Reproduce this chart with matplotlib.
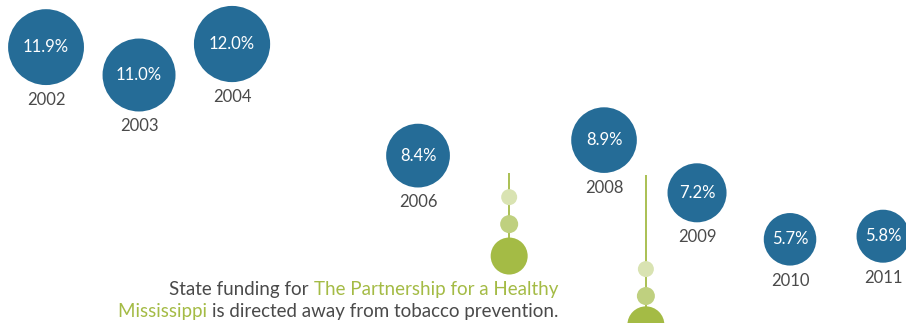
import matplotlib
matplotlib.use('Agg')
import matplotlib.pyplot as plt
import numpy as np

plt.rcParams['font.family'] = ['Lato', 'DejaVu Sans']

# data
years = [2002, 2003, 2004, 2006, 2008, 2009, 2010, 2011]
rates = [11.9, 11.0, 12.0, 8.4, 8.9, 7.2, 5.7, 5.8]
labels = ['11.9%', '11.0%', '12.0%', '8.4%', '8.9%', '7.2%', '5.7%', '5.8%']

# green "drop" decorations (x in years, y in rate units)
drop_x = [2006.98, 2008.45]
drop_top = [7.84, 7.77]
drop_light = [7.06, 4.74]
drop_mid = [6.19, 3.87]
drop_big = [5.16, 2.94]

BLUE = '#256c97'
GREEN = '#a4bb45'
GREEN_MID = '#bfd07f'
GREEN_LIGHT = '#d9e3b2'
GREY = '#4a4a4a'

DPI = 100
fig = plt.figure(figsize=(9.06, 3.23), dpi=DPI)
fig.patch.set_facecolor('white')
ax = fig.add_axes([0, 0, 1, 1])
ax.set_xlim(2001.505, 2011.247)
ax.set_ylim(3.0, 13.42)
ax.axis('off')

px2pt = 72.0 / DPI
radius_px = 11.0 * np.sqrt(np.array(rates))
sizes = (2 * radius_px * px2pt) ** 2
ax.scatter(years, rates, s=sizes, color=BLUE, edgecolors='none', zorder=3)

for x, y, lab, r in zip(years, rates, labels, radius_px):
    ax.text(x, y, lab, ha='center', va='center', color='white',
            fontsize=12, zorder=4)
    ax.annotate(str(x), (x, y), xytext=(0, -(r + 15) * px2pt),
                textcoords='offset points', ha='center', va='center',
                fontsize=12, color=GREY)

# green drops
for x, top, l, m, b in zip(drop_x, drop_top, drop_light, drop_mid, drop_big):
    ax.plot([x, x], [top, b], color=GREEN, lw=1.3, zorder=1,
            solid_capstyle='butt')
    ax.scatter([x], [l], s=(16 * px2pt) ** 2, color=GREEN_LIGHT,
               edgecolors='none', zorder=2)
    ax.scatter([x], [m], s=(18 * px2pt) ** 2, color=GREEN_MID,
               edgecolors='none', zorder=2)
    ax.scatter([x], [b], s=(37 * px2pt) ** 2, color=GREEN,
               edgecolors='none', zorder=2)

# annotation text, right aligned, two colours per line
fig.canvas.draw()
renderer = fig.canvas.get_renderer()
W, H = fig.bbox.width, fig.bbox.height
right = 558


def colored_line(parts, y_px):
    x_px = right
    for txt, col in reversed(parts):
        t = fig.text(x_px / W, 1 - y_px / H, txt, ha='right', va='center',
                     fontsize=13.5, color=col)
        bb = t.get_window_extent(renderer)
        x_px = bb.x0


colored_line([('State funding for ', GREY),
              ('The Partnership for a Healthy', GREEN)], 290)
colored_line([('Mississippi ', GREEN),
              ('is directed away from tobacco prevention.', GREY)], 311)

fig.savefig('out.png', dpi=DPI, facecolor='white')
